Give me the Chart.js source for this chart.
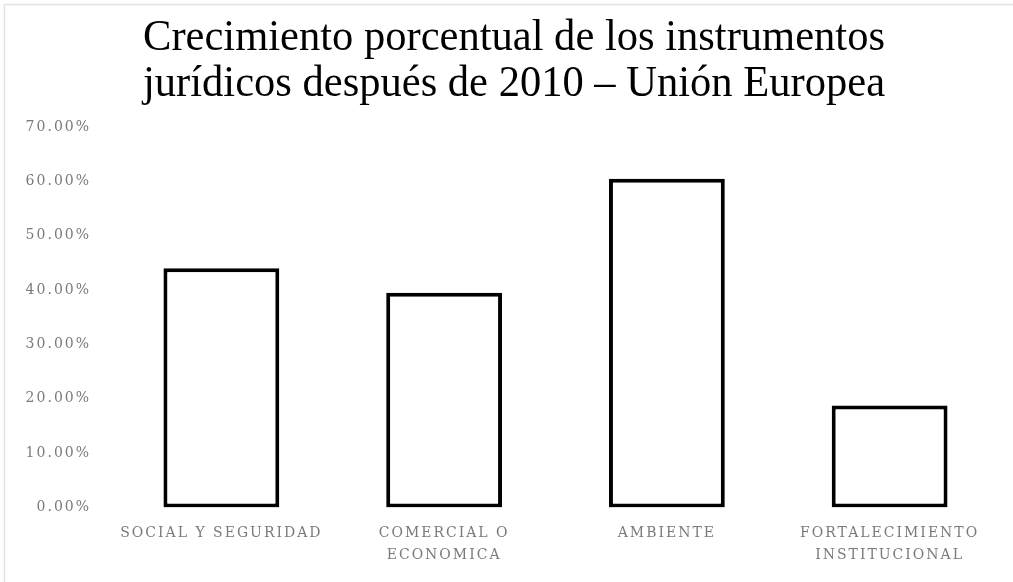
<!DOCTYPE html>
<html>
<head>
<meta charset="utf-8">
<script src="https://cdn.jsdelivr.net/npm/chart.js@4/dist/chart.umd.min.js"></script>
<style>
  html, body { margin: 0; padding: 0; background: #fff; }
  #wrap { position: relative; width: 1013px; height: 582px; }
</style>
</head>
<body>
<div id="wrap"><canvas id="barChart"></canvas></div>
<script>
var titulo = ['Crecimiento porcentual de los instrumentos', 'jurídicos después de 2010 – Unión Europea'];
var categorias = ['SOCIAL Y SEGURIDAD', ['COMERCIAL O', 'ECONOMICA'], 'AMBIENTE', ['FORTALECIMIENTO', 'INSTITUCIONAL']];
var crecimiento = [0.44, 0.395, 0.605, 0.188];

var grigio = '#7a7a7a';

// spaziatura lettere per le etichette degli assi (il canvas la perde ad ogni resize)
var spaziatura = {
    id: 'spaziatura',
    beforeUpdate: function(chart) { chart.ctx.letterSpacing = '2px'; },
    beforeDraw: function(chart) { chart.ctx.letterSpacing = '2px'; }
};

// titolo stretto tipo Times condensato + cornice del grafico
var titoloPlugin = {
    id: 'titoloStretto',
    beforeDraw: function(chart) {
        var ctx = chart.ctx;
        ctx.save();
        ctx.strokeStyle = '#e3e3e3';
        ctx.lineWidth = 1.5;
        ctx.beginPath();
        ctx.moveTo(4.5, 582);
        ctx.lineTo(4.5, 4.5);
        ctx.lineTo(1013, 4.5);
        ctx.stroke();
        ctx.restore();
    },
    afterDraw: function(chart) {
        var ctx = chart.ctx;
        ctx.save();
        ctx.letterSpacing = '0px';
        ctx.font = '45px "Liberation Serif"';
        ctx.fillStyle = '#000';
        ctx.textAlign = 'center';
        ctx.textBaseline = 'alphabetic';
        var larghezza = ctx.measureText(titulo[0]).width;
        var sx = 742 / larghezza;
        ctx.translate(514, 0);
        ctx.scale(sx, 1);
        ctx.fillText(titulo[0], 0, 50);
        ctx.fillText(titulo[1], 0, 96);
        ctx.restore();
    }
};

var ctxBar = document.getElementById('barChart').getContext('2d');
var barChart = new Chart(ctxBar, {
    type: 'bar',
    data: {
        labels: categorias,
        datasets: [{
            label: 'Crecimiento',
            data: crecimiento,
            backgroundColor: '#fff',
            borderColor: '#000',
            borderWidth: 4,
            borderSkipped: false,
            categoryPercentage: 1,
            barPercentage: 0.52
        }]
    },
    options: {
        responsive: true,
        maintainAspectRatio: false,
        animation: false,
        layout: {
            padding: { top: 127, left: 18, right: 12, bottom: 9 }
        },
        plugins: {
            legend: { display: false },
            title: { display: false },
            tooltip: { enabled: false }
        },
        scales: {
            x: {
                grid: { display: false },
                border: { display: false },
                ticks: {
                    color: grigio,
                    padding: 7,
                    maxRotation: 0,
                    autoSkip: false,
                    font: { family: '"DejaVu Serif"', size: 14, lineHeight: 1.55 }
                }
            },
            y: {
                min: 0,
                max: 0.7,
                grid: { display: false },
                border: { display: false },
                afterFit: function(scale) { scale.width = 92; },
                ticks: {
                    stepSize: 0.1,
                    color: grigio,
                    padding: 11,
                    font: { family: '"DejaVu Serif"', size: 14 },
                    callback: function(v) { return (v * 100).toFixed(2) + '%'; }
                }
            }
        }
    },
    plugins: [spaziatura, titoloPlugin]
});
</script>
</body>
</html>
